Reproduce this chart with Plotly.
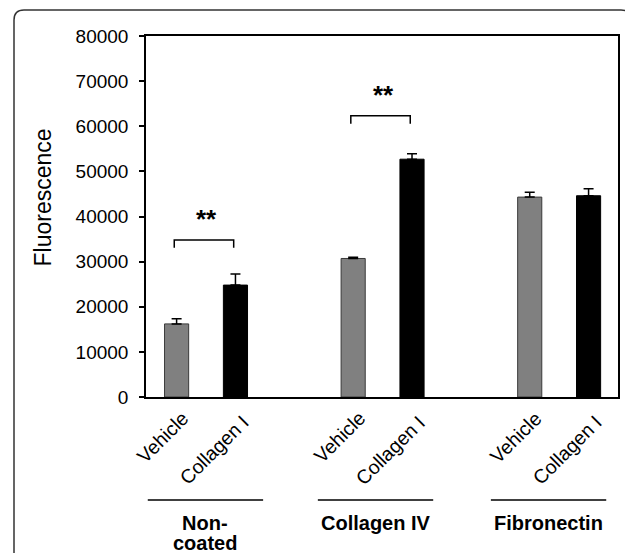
import plotly.graph_objects as go

# ---- data ----
groups = [["Non-", "coated"], ["Collagen IV"], ["Fibronectin"]]
treatments = ["Vehicle", "Collagen I"]
vehicle_vals = [16200, 30700, 44300]
vehicle_err = [1150, 250, 1100]
collagen_vals = [24800, 52700, 44600]
collagen_err = [2450, 1200, 1550]
sig_labels = ["**", "**", ""]
sig_bracket_y = [34800, 62300, None]
y_ticks = [0, 10000, 20000, 30000, 40000, 50000, 60000, 70000, 80000]

# ---- layout constants (page pixel coords) ----
OFF = 8                      # page body margin
PW, PH = 633, 553
L, R, T, B = 146, 15, 36, 156  # plot area edges in page coords
W, H = PW - OFF, PH - OFF
group_step = 3
veh_x = [i * group_step for i in range(len(groups))]
col_x = [i * group_step + 1 for i in range(len(groups))]
FONT = "Liberation Sans, Arial, sans-serif"

pw, ph = PW - L - R, PH - T - B
def px(x): return (x - L) / pw
def py(y): return (PH - B - y) / ph

fig = go.Figure()
fig.add_trace(go.Bar(
    x=veh_x, y=vehicle_vals, width=0.41,
    marker=dict(color="#808080", line=dict(color="#3a3a3a", width=1)),
    error_y=dict(type="data", symmetric=False, array=vehicle_err,
                 arrayminus=[0] * len(vehicle_err), color="black",
                 thickness=1.5, width=5),
    showlegend=False, hoverinfo="skip"))
fig.add_trace(go.Bar(
    x=col_x, y=collagen_vals, width=0.41,
    marker=dict(color="#000000", line=dict(color="#000000", width=1)),
    error_y=dict(type="data", symmetric=False, array=collagen_err,
                 arrayminus=[0] * len(collagen_err), color="black",
                 thickness=1.5, width=5),
    showlegend=False, hoverinfo="skip"))

shapes = []
annotations = []
# significance brackets
for gx, lab, by in zip(veh_x, sig_labels, sig_bracket_y):
    if not lab:
        continue
    x0, x1 = gx - 0.04, gx + 0.97
    leg = 1750
    shapes.append(dict(type="path", xref="x", yref="y",
                       path=f"M {x0},{by-leg} L {x0},{by} L {x1},{by} L {x1},{by-leg}",
                       line=dict(color="black", width=1.5)))
    annotations.append(dict(x=(x0 + x1) / 2, y=by + 4700, xref="x", yref="y",
                            text=f"<b>{lab}</b>", showarrow=False,
                            xshift=3,
                            font=dict(family=FONT, size=26, color="black"),
                            yanchor="middle"))

# rotated category labels
label_shift = {treatments[0]: (19, -7), treatments[1]: (20, -11)}
for xs, name in ((veh_x, treatments[0]), (col_x, treatments[1])):
    sx, sy = label_shift[name]
    for xv in xs:
        annotations.append(dict(x=xv, y=0, xref="x", yref="y", text=name,
                                textangle=-45, showarrow=False,
                                xanchor="right", yanchor="top",
                                xshift=sx, yshift=sy,
                                font=dict(family=FONT, size=19.5, color="black")))

# group underlines and labels
centers = [0.49, 3.38, 6.32]
for c, g in zip(centers, groups):
    shapes.append(dict(type="line", xref="x", yref="paper",
                       x0=c - 0.98, x1=c + 0.98, y0=py(500), y1=py(500),
                       line=dict(color="black", width=1.5)))
    for k, line_txt in enumerate(g):
        annotations.append(dict(x=c, y=py(523 + 20 * k), xref="x", yref="paper",
                                text=f"<b>{line_txt}</b>", showarrow=False,
                                yanchor="middle", xanchor="center",
                                font=dict(family=FONT, size=20, color="black")))

# y title
annotations.append(dict(x=px(43), y=py(197.5), xref="paper", yref="paper",
                        xanchor="center", yanchor="middle",
                        text="Fluorescence", textangle=-90, showarrow=False,
                        font=dict(family=FONT, size=23, color="black")))

# outer rounded frame
rx, ry = 10 / pw, 10 / ph
fx0, fx1, fy0, fy1 = px(14), px(631), py(10), py(600)
shapes.append(dict(type="path", xref="paper", yref="paper",
                   path=(f"M {fx0},{fy1} L {fx0},{fy0-ry} Q {fx0},{fy0} {fx0+rx},{fy0} "
                         f"L {fx1-rx},{fy0} Q {fx1},{fy0} {fx1},{fy0-ry} L {fx1},{fy1}"),
                   line=dict(color="#333333", width=1.5)))

fig.update_layout(
    width=W, height=H,
    margin=dict(l=L - OFF, r=R, t=T - OFF, b=B),
    plot_bgcolor="white", paper_bgcolor="white",
    barmode="overlay",
    shapes=shapes, annotations=annotations,
    font=dict(family=FONT, color="black"),
    xaxis=dict(range=[-0.52, 7.5], showticklabels=False,
               showline=True, linecolor="black", linewidth=1.5,
               mirror=True, showgrid=False, zeroline=False, ticks=""),
    yaxis=dict(range=[0, 80000], tickvals=y_ticks,
               ticktext=[str(v) for v in y_ticks],
               showline=True, linecolor="black", linewidth=1.5, mirror=True,
               showgrid=False, zeroline=False, ticks="outside", ticklen=5,
               tickcolor="black", tickwidth=1.5, ticklabelstandoff=7,
               tickfont=dict(family=FONT, size=19, color="black")),
)

fig.write_html("out.html")
